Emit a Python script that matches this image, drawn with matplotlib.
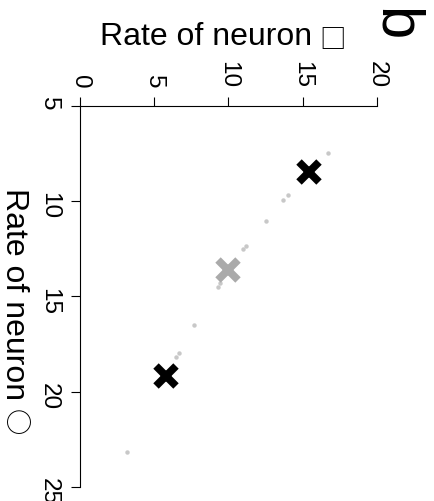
import matplotlib
matplotlib.use('Agg')
import matplotlib.pyplot as plt

plt.rcParams['font.family'] = ['Liberation Sans', 'DejaVu Sans']

# Rates of the two neurons (circle neuron on 5-25 axis, square neuron on 0-20 axis)
dots_circle = [7.50, 9.70, 9.94, 11.03, 12.39, 12.53, 14.49, 14.33, 16.49, 17.96, 18.21, 23.17]
dots_square = [16.74, 14.00, 13.71, 12.54, 11.17, 11.01, 9.28, 9.44, 7.71, 6.66, 6.49, 3.17]
black_circle = [8.50, 19.20]
black_square = [15.46, 5.80]
gray_circle = [13.65]
gray_square = [10.0]

square_ticks = [0, 5, 10, 15, 20]
circle_ticks = [5, 10, 15, 20, 25]

fig = plt.figure(figsize=(4.34, 5.01), dpi=100)
ax = fig.add_axes([80/434, 1-487/501, 296.7/434, 381.5/501])

# figure is drawn rotated by 90 degrees: square rate across, circle rate down
ax.plot(dots_square, dots_circle, 'o', color='#c8c8c8', ms=3.2, mec='none', clip_on=False)
ax.plot(gray_square, gray_circle, 'x', color='#aaaaaa', ms=14, mew=5.5, clip_on=False)
ax.plot(black_square, black_circle, 'x', color='black', ms=14, mew=5.5, clip_on=False)

ax.set_xlim(0, 20)
ax.set_ylim(25, 5)
ax.xaxis.tick_top()
ax.set_xticks(square_ticks)
ax.set_yticks(circle_ticks)
ax.tick_params(axis='x', labelrotation=-90, labelsize=17.5, length=6.5, width=0.8, pad=6)
ax.tick_params(axis='y', labelrotation=-90, labelsize=17.5, length=6.5, width=0.8, pad=8)
ax.spines['right'].set_visible(False)
ax.spines['bottom'].set_visible(False)
ax.spines['top'].set_linewidth(0.8)
ax.spines['left'].set_linewidth(0.8)

# axis labels, symbol drawn as its own glyph so it can be sized like the reference
fig.text(100/434, 1-45/501, 'Rate of neuron', fontsize=23, ha='left', va='baseline')
fig.text(333/434, 1-41/501, '\u25a1', fontsize=19, family='Noto Sans CJK SC',
         ha='center', va='center')
fig.text(14/434, 1-188/501, 'Rate of neuron', fontsize=23, rotation=-90,
         ha='center', va='top')
fig.text(14/434, 1-422/501, '\u25cb', fontsize=19, family='Noto Sans CJK SC',
         rotation=-90, ha='center', va='center')
fig.text(394/434, 1-25/501, 'b', fontsize=43, rotation=-90, ha='center', va='center')

plt.savefig('out.png', dpi=100)
